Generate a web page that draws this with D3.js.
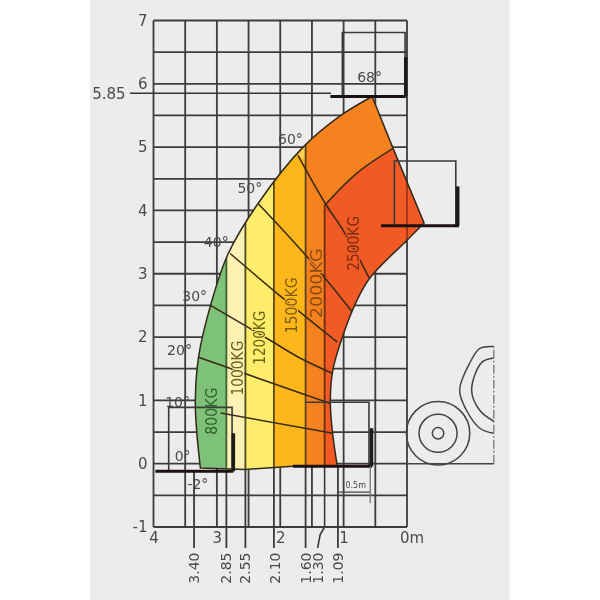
<!DOCTYPE html>
<html>
<head>
<meta charset="utf-8">
<script src="https://cdn.jsdelivr.net/npm/d3@7"></script>
<style>
html, body { margin: 0; padding: 0; background: #fff; }
svg { display: block; filter: blur(0.45px); }
text { font-family: "DejaVu Sans", sans-serif; fill: #4a4a4a; }
</style>
</head>
<body>
<svg id="container" width="600" height="600"></svg>
<script>
// all reach / height values are in metres
const gridX = d3.range(0, 4.01, 0.5);
const gridY = d3.range(-1, 7.01, 0.5);
const xTickValues = [4, 3, 2, 1];
const yTickValues = [7, 6, 5, 4, 3, 2, 1, 0, -1];

const outerArc = [[3.26,-0.07],[3.32,0.53],[3.34,1.00],[3.29,1.68],[3.10,2.50],[2.82,3.32],[2.35,4.11],[1.64,5.00],[1.06,5.49],[0.55,5.80]];
const rightEdge = [[0.55,5.80],[0.22,4.98],[-0.27,3.80]];
const innerArc = [[-0.27,3.80],[0,3.53],[0.58,2.94],[0.79,2.58],[1.01,2.03],[1.17,1.48],[1.21,1.00],[1.18,0.53],[1.10,-0.04]];
const bottomEdge = [[1.10,-0.04],[1.80,-0.04],[2.55,-0.09],[3.26,-0.07]];

const bandStart = [4, 2.85, 2.55, 2.10, 1.60];
const bandEnd = [2.85, 2.55, 2.10, 1.60, -1];
const bandColors = ['#7dc278', '#fdf2b4', '#ffec6a', '#fdb71a', '#f5821f'];
const redCorner = [[1.30,4.08],[0.79,4.59],[0.22,4.98],[-1,4.98],[-1,-1],[1.30,-1]];
const sliver = [[1.72,4.87],[1.60,5.02],[1.60,4.79]];
const dividers = [2.85, 2.55, 2.10, 1.60, 1.30];
const dividerColors = ['#3f5f30', '#4d4a20', '#5a4a15', '#5b4412', '#6e2d10'];
const redBoundary = [[0.22,4.98],[0.79,4.59],[1.30,4.08]];

const angleLines = [
    [[2.94,0.80],[1.17,0.48]],
    [[3.29,1.68],[1.21,0.95]],
    [[3.10,2.50],[2.16,1.95],[1.69,1.67],[1.18,1.43]],
    [[2.79,3.32],[2.05,2.69],[1.10,1.92]],
    [[2.35,4.11],[1.57,3.26],[0.85,2.38]],
    [[1.72,4.87],[1.29,4.11],[1.01,3.69],[0.60,2.94]]
];
const angleLabels = ['68°', '60°', '50°', '40°', '30°', '20°', '10°', '0°', '-2°'];
const angleLabelX = [0.59, 1.84, 2.48, 3.01, 3.35, 3.59, 3.62, 3.54, 3.30];
const angleLabelY = [6.10, 5.12, 4.36, 3.50, 2.65, 1.80, 0.98, 0.12, -0.32];

const loadLabels = ['800KG', '1000KG', '1200KG', '1500KG', '2000KG', '2500KG'];
const loadLabelX = [3.09, 2.68, 2.33, 1.83, 1.43, 0.85];
const loadLabelY = [0.83, 1.51, 1.99, 2.50, 2.85, 3.48];
const loadLabelLength = [47, 55, 54, 56, 70, 55];
const loadLabelColors = ['#2f5f2c', '#6a6320', '#6a6318', '#7a5a10', '#8a4a10', '#7c2c10'];
const loadHalo = ['#7dc278', '#fdf2b4', '#ffec6a', '#fdb71a', '#f5821f', '#f15a24'];

const reachTicks = [3.36, 2.85, 2.55, 2.10, 1.60, 1.09];
const reachLabels = ['3.40', '2.85', '2.55', '2.10', '1.60', '1.30', '1.09'];
const reachLabelX = [3.36, 2.85, 2.55, 2.09, 1.60, 1.41, 1.09];
const tickTop = [-0.12, -0.12, -0.09, -0.07, -0.04, -0.05];
const hook = [[1.30,-0.04],[1.30,-1],[1.37,-1.12],[1.41,-1.33]];

const boxes = [
    [[1.02,5.80],[1.02,6.81],[0.03,6.81],[0.03,5.80]],
    [[0.20,3.76],[0.20,4.78],[-0.77,4.78],[-0.77,3.76]],
    [[1.60,0.97],[0.60,0.97],[0.60,-0.04]],
    [[3.76,-0.12],[3.76,0.89],[2.76,0.89],[2.76,-0.12]]
];
const platforms = [
    [[1.21,5.80],[0.02,5.80]],
    [[0.41,3.76],[-0.82,3.76]],
    [[1.80,-0.04],[0.55,-0.04]],
    [[3.97,-0.12],[2.74,-0.12]]
];
const forks = [
    [[0.02,5.80],[0.02,6.42]],
    [[-0.80,3.76],[-0.80,4.38]],
    [[0.56,-0.04],[0.56,0.56]],
    [[2.74,-0.12],[2.74,0.48]]
];

const wheelCentre = [-0.49, 0.48];
const wheelRadii = [0.50, 0.30, 0.09];
const bodyOuter = [[-1.37,1.85],[-1.15,1.82],[-0.99,1.59],[-0.83,1.16],[-0.94,0.84],[-1.15,0.56],[-1.37,0.48]];
const bodyInner = [[-1.37,1.67],[-1.18,1.60],[-1.02,1.16],[-1.15,0.84],[-1.37,0.67]];
const ground = [[0,0],[-1.37,0]];
const bodyAxis = [[-1.37,0],[-1.37,1.85]];
const dimension = [[1.09,-0.45],[0.58,-0.45]];

const svg = d3.select('#container');

const x = d3.scaleLinear().domain([4, 0]).range([153.5, 407]);
const y = d3.scaleLinear().domain([-1, 7]).range([527, 20.5]);

const straight = d3.line().x(d => x(d[0])).y(d => y(d[1]));
const smooth = d3.line().x(d => x(d[0])).y(d => y(d[1])).curve(d3.curveCatmullRom.alpha(0.5));
const envelope = smooth(outerArc) + 'L' + straight(rightEdge).slice(1) + 'L' + smooth(innerArc).slice(1) + 'L' + straight(bottomEdge).slice(1) + 'Z';

// grey panel
svg.append('rect')
    .attr('x', x(5)).attr('y', 0)
    .attr('width', x(-1.62) - x(5)).attr('height', 600)
    .attr('fill', '#ececec');

// grid
svg.selectAll('.gridx').data(gridX).enter().append('line')
    .attr('x1', d => x(d)).attr('x2', d => x(d))
    .attr('y1', y(7)).attr('y2', y(-1))
    .attr('stroke', '#3c3c3c').attr('stroke-width', 1.8);
svg.selectAll('.gridy').data(gridY).enter().append('line')
    .attr('x1', x(4)).attr('x2', x(0))
    .attr('y1', d => y(d)).attr('y2', d => y(d))
    .attr('stroke', '#3c3c3c').attr('stroke-width', 1.8);

// 5.85 max height line
svg.append('line')
    .attr('x1', x(4.37)).attr('x2', x(1.2))
    .attr('y1', y(5.85)).attr('y2', y(5.85))
    .attr('stroke', '#333').attr('stroke-width', 1.6);
svg.append('text')
    .attr('x', x(4.44)).attr('y', y(5.85))
    .attr('dy', '0.35em').attr('text-anchor', 'end')
    .attr('font-size', 15)
    .text('5.85');

// axes, only for the labels
const yAxis = d3.axisLeft(y).tickValues(yTickValues).tickSize(0).tickPadding(6).tickFormat(d => d);
svg.append('g').attr('transform', `translate(${x(4)},0)`).call(yAxis)
    .call(g => g.select('.domain').remove())
    .selectAll('text').attr('font-size', 15).attr('font-family', '"DejaVu Sans"');
const xAxis = d3.axisBottom(x).tickValues(xTickValues).tickSize(0).tickPadding(5).tickFormat(d => d);
svg.append('g').attr('transform', `translate(0,${y(-1)})`).call(xAxis)
    .call(g => g.select('.domain').remove())
    .selectAll('text').attr('font-size', 15).attr('font-family', '"DejaVu Sans"');
svg.append('text')
    .attr('x', x(-0.08)).attr('y', y(-1) + 16)
    .attr('text-anchor', 'middle').attr('font-size', 15)
    .text('0m');

// load zones, clipped to the working envelope
svg.append('clipPath').attr('id', 'envelope').append('path').attr('d', envelope);
const zones = svg.append('g').attr('clip-path', 'url(#envelope)');

zones.selectAll('.band').data(bandColors).enter().append('rect')
    .attr('x', (d, i) => x(bandStart[i]))
    .attr('width', (d, i) => x(bandEnd[i]) - x(bandStart[i]))
    .attr('y', y(7)).attr('height', y(-1) - y(7))
    .attr('fill', d => d);
zones.append('path').attr('d', straight(redCorner) + 'Z').attr('fill', '#f15a24');
zones.append('path').attr('d', straight(sliver) + 'Z').attr('fill', '#fbd34d');

// the 1.30 divider stops at the red boundary, the others run up to the arc
zones.selectAll('.divider').data(dividers).enter().append('line')
    .attr('x1', d => x(d)).attr('x2', d => x(d))
    .attr('y1', d => d === 1.30 ? y(4.08) : y(7)).attr('y2', y(-1))
    .attr('stroke', (d, i) => dividerColors[i]).attr('stroke-width', 1.8);

// last grid line shows through the red
zones.append('line')
    .attr('x1', x(0)).attr('x2', x(0)).attr('y1', y(4.98)).attr('y2', y(-1))
    .attr('stroke', '#8f2f14').attr('stroke-width', 1.5);

zones.selectAll('.angle').data(angleLines).enter().append('path')
    .attr('d', d => smooth(d))
    .attr('fill', 'none').attr('stroke', '#3a2c18').attr('stroke-width', 1.6);
zones.append('path').attr('d', smooth(redBoundary))
    .attr('fill', 'none').attr('stroke', '#3a2c18').attr('stroke-width', 1.6);

svg.append('path').attr('d', envelope)
    .attr('fill', 'none').attr('stroke', '#33291a').attr('stroke-width', 1.5);

// load labels
svg.selectAll('.load').data(loadLabels).enter().append('text')
    .attr('transform', (d, i) => `translate(${x(loadLabelX[i])},${y(loadLabelY[i])}) rotate(-90)`)
    .attr('text-anchor', 'middle').attr('dy', '0.36em')
    .attr('font-size', 16)
    .attr('textLength', (d, i) => loadLabelLength[i])
    .attr('lengthAdjust', 'spacingAndGlyphs')
    .style('fill', (d, i) => loadLabelColors[i])
    .style('stroke', (d, i) => loadHalo[i])
    .style('stroke-width', 2.5)
    .style('paint-order', 'stroke')
    .text(d => d);

// angle labels
svg.selectAll('.anglelabel').data(angleLabels).enter().append('text')
    .attr('x', (d, i) => x(angleLabelX[i]))
    .attr('y', (d, i) => y(angleLabelY[i]))
    .attr('dy', '0.35em').attr('text-anchor', 'middle')
    .attr('font-size', 14)
    .text(d => d);

// reach ticks under the chart
svg.selectAll('.reach').data(reachTicks).enter().append('line')
    .attr('x1', d => x(d)).attr('x2', d => x(d))
    .attr('y1', (d, i) => y(tickTop[i])).attr('y2', y(-1.33))
    .attr('stroke', '#3a3a3a').attr('stroke-width', 1.8);
svg.append('path').attr('d', straight(hook))
    .attr('fill', 'none').attr('stroke', '#3a3a3a').attr('stroke-width', 1.6);
svg.selectAll('.reachlabel').data(reachLabels).enter().append('text')
    .attr('transform', (d, i) => `translate(${x(reachLabelX[i])},${y(-1.65)}) rotate(-90)`)
    .attr('text-anchor', 'middle').attr('dy', '0.36em')
    .attr('font-size', 14)
    .text(d => d);

// basket at each extreme position
svg.selectAll('.box').data(boxes).enter().append('path')
    .attr('d', d => straight(d))
    .attr('fill', 'none').attr('stroke', '#3a3a3a').attr('stroke-width', 1.6);
svg.selectAll('.platform').data(platforms).enter().append('path')
    .attr('d', d => straight(d))
    .attr('fill', 'none').attr('stroke', '#1c1212').attr('stroke-width', 3);
svg.selectAll('.fork').data(forks).enter().append('path')
    .attr('d', d => straight(d))
    .attr('fill', 'none').attr('stroke', '#1c1c1c').attr('stroke-width', 3.5);

// 0.5m dimension
svg.append('path').attr('d', straight(dimension))
    .attr('stroke', '#444').attr('stroke-width', 1.2).attr('fill', 'none');
svg.append('line')
    .attr('x1', x(0.58)).attr('x2', x(0.58)).attr('y1', y(-0.04)).attr('y2', y(-0.62))
    .attr('stroke', '#777').attr('stroke-width', 1.3);
svg.append('text')
    .attr('x', x(0.81)).attr('y', y(-0.38))
    .attr('text-anchor', 'middle').attr('font-size', 8)
    .text('0.5m');

// machine outline on the right
svg.selectAll('.wheel').data(wheelRadii).enter().append('circle')
    .attr('cx', x(wheelCentre[0])).attr('cy', y(wheelCentre[1]))
    .attr('r', d => x(0) - x(d))
    .attr('fill', 'none').attr('stroke', '#444').attr('stroke-width', 1.5);
[bodyOuter, bodyInner].forEach(part => {
    svg.append('path').attr('d', smooth(part))
        .attr('fill', 'none').attr('stroke', '#444').attr('stroke-width', 1.5);
});
svg.append('path').attr('d', straight(ground))
    .attr('fill', 'none').attr('stroke', '#444').attr('stroke-width', 1.5);
svg.append('path').attr('d', straight(bodyAxis))
    .attr('fill', 'none').attr('stroke', '#777').attr('stroke-width', 1.3)
    .attr('stroke-dasharray', '9 2 2 2');
</script>
</body>
</html>
